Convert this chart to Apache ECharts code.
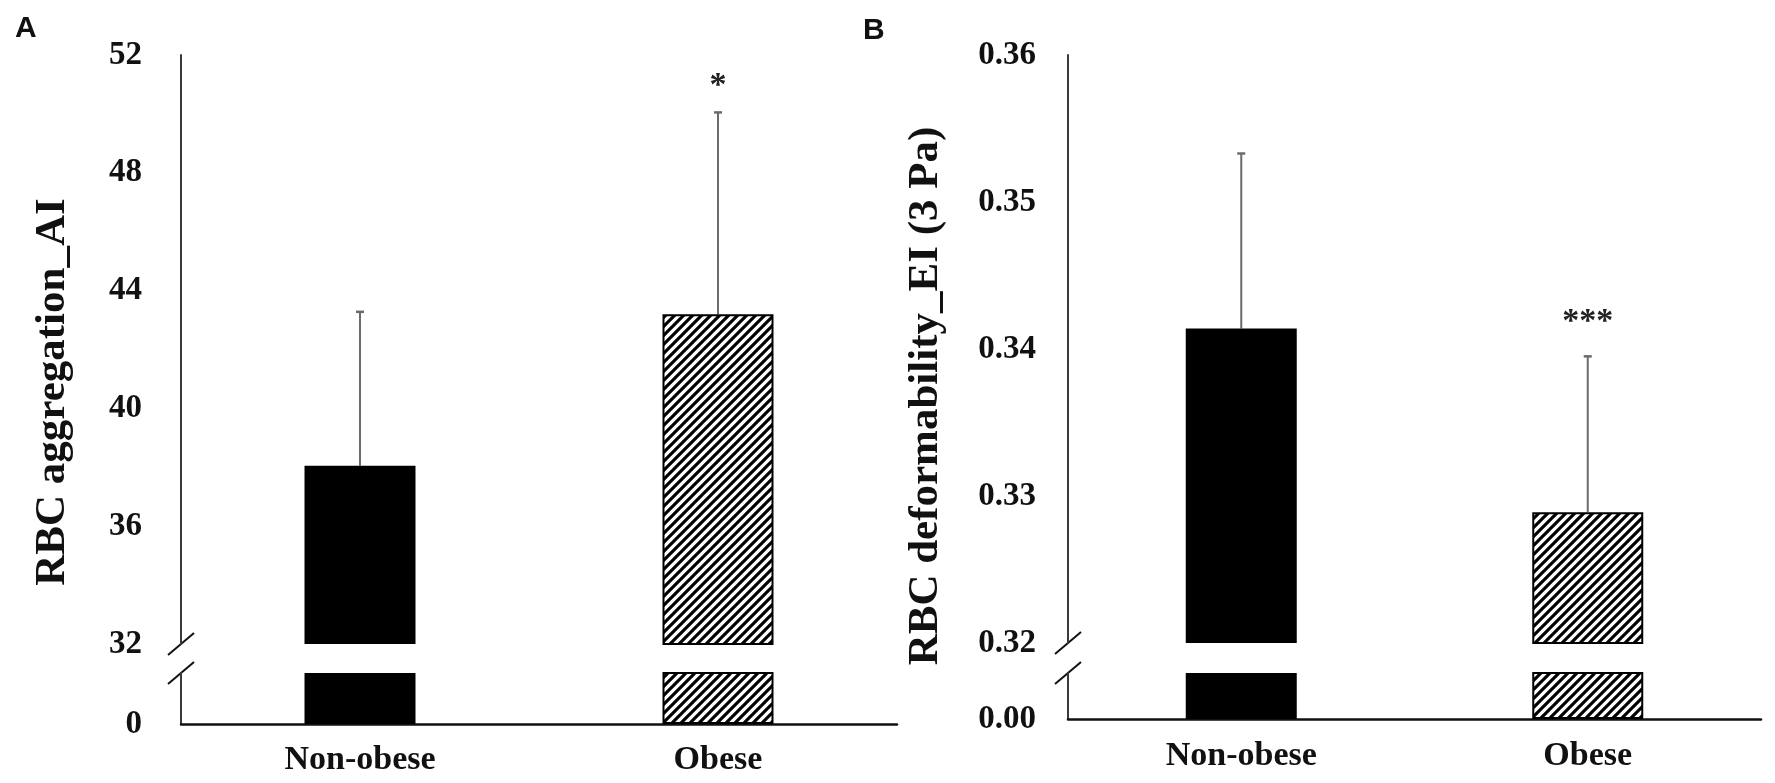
<!DOCTYPE html>
<html>
<head>
<meta charset="utf-8">
<title>RBC aggregation and deformability</title>
<script src="https://cdn.jsdelivr.net/npm/echarts@6/dist/echarts.min.js"></script>
<style>
  html, body { margin: 0; padding: 0; background: #fff; }
  #main { width: 1775px; height: 783px; }
</style>
</head>
<body>
<div id="main"></div>
<script type="text/javascript">
// data
var categories = ['Non-obese', 'Obese'];

// A: RBC aggregation (AI), mean and SD
var aggMean = [38.05, 43.2];
var aggSD = [5.23, 6.85];
var aggSig = ['', '*'];
var aggUpper = [32, 52, 4];     // min, max, step of the upper segment
var aggLower = [0, 32];         // lower segment (only 0 is labelled)

// B: RBC deformability (EI at 3 Pa), mean and SD
var defMean = [0.3414, 0.3289];
var defSD = [0.0119, 0.0106];
var defSig = ['', '***'];
var defUpper = [0.32, 0.36, 0.01];
var defLower = [0, 0.32];

var SERIF = '"Liberation Serif", "Times New Roman", serif';

// grid boxes: [left, top, width, height]
var boxes = [
    [181, 55, 716, 589],   // A upper
    [181, 673, 716, 51],   // A lower
    [1068, 55, 693, 588],  // B upper
    [1068, 673, 693, 46]   // B lower
];

function hatch() {
    var c = document.createElement('canvas');
    c.width = 9; c.height = 9;
    var g = c.getContext('2d');
    g.fillStyle = '#fff';
    g.fillRect(0, 0, 9, 9);
    g.strokeStyle = '#000';
    g.lineWidth = 3.1;
    g.beginPath();
    g.moveTo(-1, 10); g.lineTo(10, -1);
    g.moveTo(-2, 2); g.lineTo(2, -2);
    g.moveTo(7, 11); g.lineTo(11, 7);
    g.stroke();
    return c;
}

var barStyles = [
    { color: '#000' },
    { color: { image: hatch(), repeat: 'repeat' }, borderColor: '#000', borderWidth: 2 }
];

var myChart = echarts.init(document.getElementById('main'));

function barSeries(values, idx) {
    return {
        type: 'bar',
        xAxisIndex: idx,
        yAxisIndex: idx,
        barWidth: 111,
        clip: true,
        silent: true,
        data: values.map(function (v, i) {
            return { value: v, itemStyle: barStyles[i] };
        })
    };
}

function errSeries(means, sds, sig, idx, gap) {
    return {
        type: 'custom',
        xAxisIndex: idx,
        yAxisIndex: idx,
        silent: true,
        clip: false,
        data: means.map(function (m, i) { return [i, m, m + sds[i]]; }),
        renderItem: function (params, api) {
            var base = api.coord([api.value(0), api.value(1)]);
            var top = api.coord([api.value(0), api.value(2)]);
            var kids = [
                { type: 'line', shape: { x1: base[0], y1: base[1], x2: top[0], y2: top[1] },
                  style: { stroke: '#6b6b6b', lineWidth: 2 } },
                { type: 'line', shape: { x1: top[0] - 4, y1: top[1], x2: top[0] + 4, y2: top[1] },
                  style: { stroke: '#6b6b6b', lineWidth: 2.5 } }
            ];
            var s = sig[params.dataIndex];
            if (s) {
                kids.push({
                    type: 'text', x: top[0], y: top[1] - gap,
                    style: { text: s, fill: '#222', fontSize: 34, fontWeight: 'bold', fontFamily: SERIF,
                             align: 'center', verticalAlign: 'middle' }
                });
            }
            return { type: 'group', children: kids };
        }
    };
}

function yAxisOf(idx, range, step, margin, fmt, hideMax) {
    return {
        type: 'value',
        gridIndex: idx,
        min: range[0],
        max: range[1],
        interval: step,
        axisLine: { show: true, lineStyle: { color: '#3a3a3a', width: 2 } },
        axisTick: { show: false },
        splitLine: { show: false },
        axisLabel: {
            margin: margin,
            showMaxLabel: !hideMax,
            color: '#111',
            fontSize: 33,
            fontWeight: 'bold',
            fontFamily: SERIF,
            formatter: fmt
        }
    };
}

function xAxisOf(idx, visible, margin) {
    return {
        type: 'category',
        gridIndex: idx,
        data: categories,
        show: visible,
        axisLine: { show: visible, lineStyle: { color: '#111', width: 2.5 } },
        axisTick: { show: false },
        axisLabel: { margin: margin, color: '#111', fontSize: 34, fontWeight: 'bold', fontFamily: SERIF }
    };
}

var fmtInt = function (v) { return String(v); };
var fmt2 = function (v) { return v.toFixed(2); };

option = {
    animation: false,
    backgroundColor: '#fff',
    grid: boxes.map(function (b) {
        return { left: b[0], top: b[1], width: b[2], height: b[3], containLabel: false };
    }),
    xAxis: [
        xAxisOf(0, false, 19),
        xAxisOf(1, true, 19),
        xAxisOf(2, false, 19),
        xAxisOf(3, true, 20)
    ],
    yAxis: [
        yAxisOf(0, aggUpper, aggUpper[2], 39, fmtInt, false),
        yAxisOf(1, aggLower, aggLower[1], 39, fmtInt, true),
        yAxisOf(2, defUpper, defUpper[2], 32, fmt2, false),
        yAxisOf(3, defLower, defLower[1], 32, fmt2, true)
    ],
    series: [
        barSeries(aggMean, 0),
        barSeries(aggMean, 1),
        errSeries(aggMean, aggSD, aggSig, 0, 26),
        barSeries(defMean, 2),
        barSeries(defMean, 3),
        errSeries(defMean, defSD, defSig, 2, 34)
    ]
};

myChart.setOption(option);

// axis break marks, y titles and panel letters
function breakMarks(axisX, yTop, yBottom) {
    return [yTop, yBottom].map(function (y) {
        return {
            type: 'line',
            shape: { x1: axisX - 13, y1: y + 11, x2: axisX + 13, y2: y - 11 },
            style: { stroke: '#111', lineWidth: 2 }
        };
    });
}

var aTop = myChart.convertToPixel({ yAxisIndex: 0 }, aggUpper[0]);
var aBot = myChart.convertToPixel({ yAxisIndex: 1 }, aggLower[1]);
var bTop = myChart.convertToPixel({ yAxisIndex: 2 }, defUpper[0]);
var bBot = myChart.convertToPixel({ yAxisIndex: 3 }, defLower[1]);

var titleStyle = { fill: '#111', fontSize: 43, fontWeight: 'bold', fontFamily: SERIF,
                   align: 'center', verticalAlign: 'middle' };

myChart.setOption({
    graphic: [].concat(
        breakMarks(boxes[0][0], aTop, aBot),
        breakMarks(boxes[2][0], bTop, bBot),
        [
            { type: 'text', x: 53, y: 392, rotation: Math.PI / 2,
              style: Object.assign({ text: 'RBC aggregation_AI' }, titleStyle) },
            { type: 'text', x: 926, y: 396, rotation: Math.PI / 2,
              style: Object.assign({ text: 'RBC deformability_EI (3 Pa)' }, titleStyle) },
            { type: 'text', x: 15, y: 14,
              style: { text: 'A', fill: '#111', fontSize: 30, fontWeight: 'bold', fontFamily: '"Liberation Sans", Arial, sans-serif' } },
            { type: 'text', x: 863, y: 16,
              style: { text: 'B', fill: '#111', fontSize: 30, fontWeight: 'bold', fontFamily: '"Liberation Sans", Arial, sans-serif' } }
        ]
    )
});
</script>
</body>
</html>
